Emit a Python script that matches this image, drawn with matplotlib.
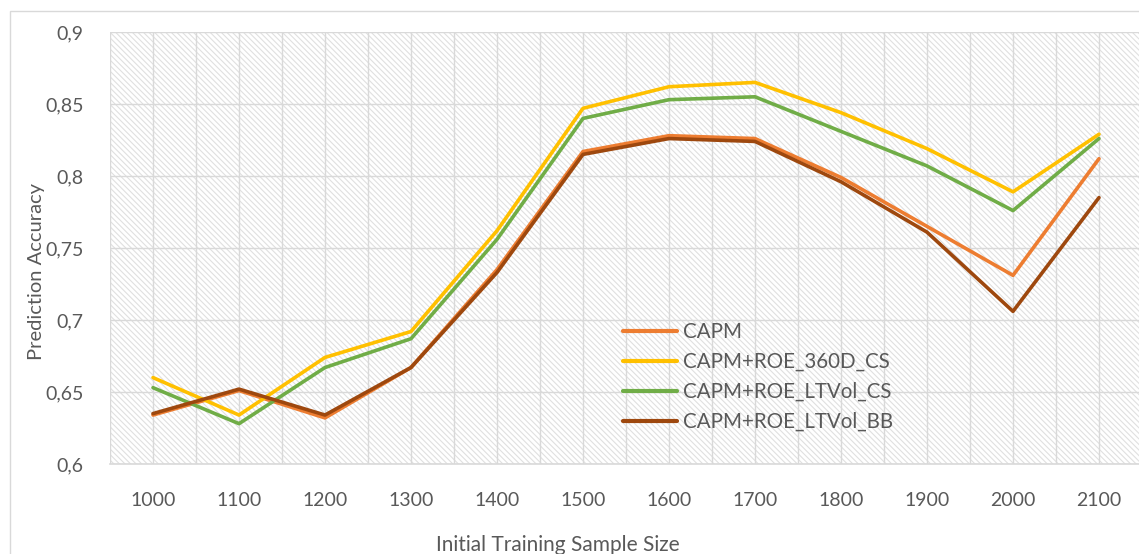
import matplotlib
matplotlib.use("Agg")
import matplotlib.pyplot as plt
from matplotlib.patches import Rectangle
from matplotlib.ticker import FuncFormatter, MultipleLocator

plt.rcParams['font.family'] = ['Lato', 'DejaVu Sans']
plt.rcParams['hatch.linewidth'] = 0.8

sizes = [1000, 1100, 1200, 1300, 1400, 1500, 1600, 1700, 1800, 1900, 2000, 2100]
capm = [0.634, 0.651, 0.632, 0.667, 0.735, 0.817, 0.828, 0.826, 0.799, 0.765, 0.731, 0.812]
roe_360d_cs = [0.660, 0.634, 0.674, 0.692, 0.762, 0.847, 0.862, 0.865, 0.844, 0.819, 0.789, 0.829]
roe_ltvol_cs = [0.653, 0.628, 0.667, 0.687, 0.756, 0.840, 0.853, 0.855, 0.831, 0.807, 0.776, 0.826]
roe_ltvol_bb = [0.635, 0.652, 0.634, 0.667, 0.733, 0.815, 0.826, 0.824, 0.796, 0.761, 0.706, 0.785]

series = [
    ("CAPM", capm, "#ED7D31"),
    ("CAPM+ROE_360D_CS", roe_360d_cs, "#FFC000"),
    ("CAPM+ROE_LTVol_CS", roe_ltvol_cs, "#70AD47"),
    ("CAPM+ROE_LTVol_BB", roe_ltvol_bb, "#9E480E"),
]

txt = "#595959"
grid = "#d9d9d9"

fig = plt.figure(figsize=(11.39, 5.54), dpi=100)
# outer chart frame
fig.patches.append(Rectangle((10 / 1139, -0.1), 1.2, (554 - 11) / 554 + 0.1,
                             transform=fig.transFigure, fill=False,
                             edgecolor=grid, lw=1.0))

ax = fig.add_axes([110 / 1139, 90 / 554, 1032 / 1139, 432 / 554])
ax.patch.set_alpha(0)
ax.add_patch(Rectangle((0, 0), 1, 1, transform=ax.transAxes, facecolor="white",
                       edgecolor="#e0e0e0", hatch="\\" * 6, lw=0, zorder=0.1))

x = list(range(len(sizes)))
for name, vals, col in series:
    ax.plot(x, vals, color=col, lw=2.6, label=name, zorder=3,
            solid_joinstyle="round", solid_capstyle="round")

ax.set_xlim(-0.5, len(sizes) - 0.5)
ax.set_ylim(0.6, 0.9)
ax.set_xticks(x)
ax.set_xticklabels([str(s) for s in sizes])
ax.xaxis.set_minor_locator(MultipleLocator(1, offset=0.5))
ax.yaxis.set_major_locator(MultipleLocator(0.05))
ax.yaxis.set_major_formatter(FuncFormatter(lambda v, p: f"{v:g}".replace(".", ",")))

ax.set_axisbelow(True)
ax.grid(True, which="major", color=grid, lw=1.0)
ax.grid(True, which="minor", axis="x", color=grid, lw=1.0)
for s in ["top", "right", "left"]:
    ax.spines[s].set_visible(False)
ax.spines["bottom"].set_color(grid)
ax.spines["bottom"].set_linewidth(1.2)

ax.tick_params(which="both", length=0, labelsize=14, labelcolor=txt)
ax.tick_params(axis="x", pad=20)
ax.tick_params(axis="y", pad=19)

fig.text(558 / 1139, 1 - 545 / 554, "Initial Training Sample Size", ha="center",
         va="center", fontsize=15, color=txt)
fig.text(37 / 1139, 1 - 272 / 554, "Prediction Accuracy", ha="center", va="center",
         rotation=90, fontsize=14.5, color=txt)

leg = ax.legend(loc="upper left", bbox_to_anchor=(505 / 1032, (464 - 314) / 432),
                frameon=False, fontsize=14.8, handlelength=2.6, handletextpad=0.3,
                labelspacing=0.48, labelcolor=txt, borderaxespad=0)
for h in leg.get_lines():
    h.set_linewidth(3)

fig.savefig("out.png", dpi=100)
